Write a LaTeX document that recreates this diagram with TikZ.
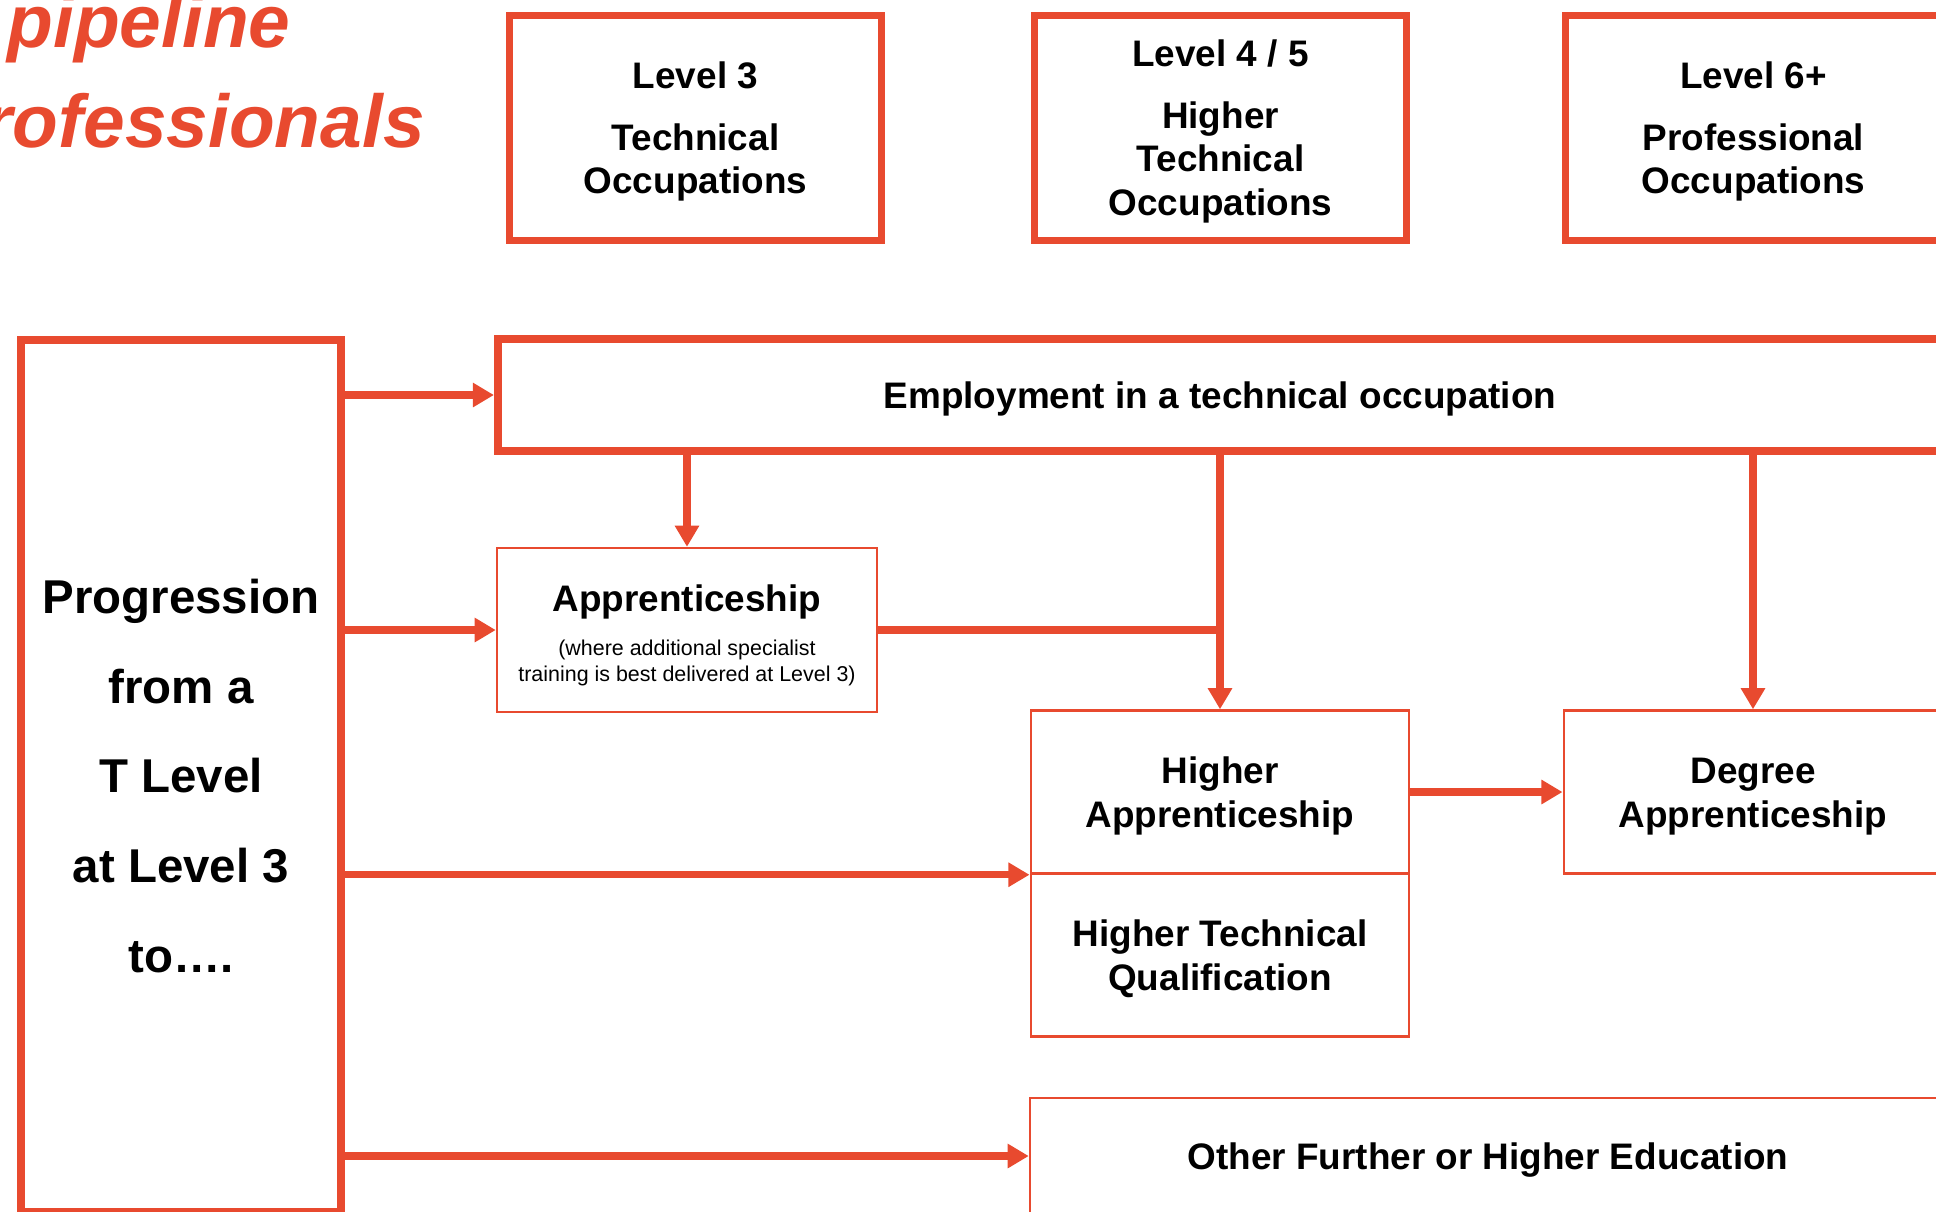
\documentclass[tikz,border=0pt]{standalone}
\usepackage{fontspec}
\setmainfont{Liberation Sans}
\usetikzlibrary{arrows.meta,positioning}
\definecolor{tred}{RGB}{232,74,47}
\newcommand{\boxstrut}{\rule{0pt}{9.8pt}}

\begin{document}
\begin{tikzpicture}[
    bigbox/.style={draw=tred,line width=1.9pt,minimum width=3.72cm,minimum height=2.25cm,align=center,inner sep=0pt,font=\bfseries\fontsize{10.5}{12.5}\selectfont},
    thinbox/.style={draw=tred,line width=0.7pt,minimum width=3.785cm,minimum height=1.63cm,align=center,inner sep=0pt,font=\bfseries\fontsize{10.5}{12.5}\selectfont},
    flow/.style={draw=tred,line width=2.1pt,-{Triangle[length=6pt,width=6.6pt]}},
    ttl/.style={anchor=base west,inner sep=0pt,text=tred,font=\bfseries\itshape\fontsize{21.3}{25}\selectfont}
]
        \useasboundingbox (0,0) rectangle (19.36,-12.11);
        \clip (0,0) rectangle (19.36,-12.11);
        \node[ttl] (ttlone) at (0.07,-0.47) {pipeline};
        \node[ttl] (ttltwo) at (-0.17,-1.47) {rofessionals};
        \node[bigbox] (lvlthree) at (6.955,-1.28) {\boxstrut Level 3\\[4.9pt]Technical\\Occupations};
        \node[bigbox] (lvlfour) at (12.205,-1.28) {\boxstrut Level 4 / 5\\[4.9pt]Higher\\Technical\\Occupations};
        \node[bigbox,minimum width=3.76cm] (lvlsix) at (17.535,-1.28) {\boxstrut Level 6+\\[4.9pt]Professional\\Occupations};
        \node[draw=tred,line width=2.2pt,minimum width=3.2cm,minimum height=8.72cm,align=center,font=\bfseries\fontsize{13.5}{25.6}\selectfont] (prog) at (1.81,-7.76) {Progression\\from a\\T Level\\at Level 3\\to….};
        \node[bigbox,line width=2.3pt,minimum width=14.44cm,minimum height=1.12cm] (emp) at (12.2,-3.95) {\boxstrut Employment in a technical occupation};
        \node[thinbox,minimum width=3.8cm,minimum height=1.64cm] (appr) at (6.87,-6.30) {};
        \node[font=\bfseries\fontsize{10.5}{12.5}\selectfont] (apprname) at (6.87,-6.015) {Apprenticeship};
        \node[align=center,font=\fontsize{6.1}{7.4}\selectfont] (apprnote) at (6.87,-6.625) {(where additional specialist\\training is best delivered at Level 3)};
        \node[thinbox] (ha) at (12.20,-7.92) {\boxstrut Higher\\Apprenticeship};
        \node[thinbox] (htq) at (12.20,-9.55) {\boxstrut Higher Technical\\Qualification};
        \node[thinbox] (deg) at (17.53,-7.92) {\boxstrut Degree\\Apprenticeship};
        \node[thinbox,minimum width=9.16cm,minimum height=1.16cm] (other) at (14.88,-11.56) {\boxstrut Other Further or Higher Education};
        \draw[flow] (prog.east |- emp.west) -- (emp.west);
        \draw[flow] (prog.east |- appr.west) -- (appr.west);
        \draw[flow] (prog.east |- ha.south west) -- (ha.south west);
        \draw[flow] (prog.east |- other.west) -- (other.west);
        \draw[flow] (appr.north |- emp.south) -- (appr.north);
        \draw[flow] (ha.north |- emp.south) -- (ha.north);
        \draw[flow] (deg.north |- emp.south) -- (deg.north);
        \draw[flow] (ha.east) -- (deg.west);
        \draw[tred,line width=2.1pt] (appr.east) -- (appr.east -| ha.north);
    \end{tikzpicture}
\end{document}
